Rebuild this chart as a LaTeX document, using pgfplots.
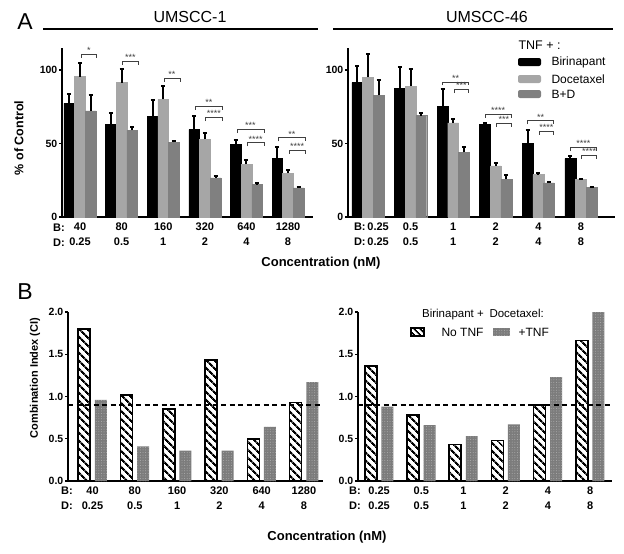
\documentclass[border=0pt]{standalone}
\usepackage{pgfplots}
\pgfplotsset{compat=1.18}
\usepackage{fontspec}
\setmainfont{Liberation Sans}
\usetikzlibrary{patterns.meta}
\definecolor{lgray}{HTML}{A6A6A6}
\definecolor{dgray}{HTML}{808080}
\definecolor{dotgray}{HTML}{7C7C7C}
\definecolor{dotlight}{HTML}{B0B0B0}
\newcommand\fs[1]{\fontsize{#1}{#1}\selectfont}
\pgfplotsset{
  panel/.style={
    scale only axis, clip=false,
    axis x line*=bottom, axis y line*=left,
    axis line style={-, line width=1.4pt},
    tick align=outside, major tick length=3pt,
    ytick style={line width=1.2pt, black},
    xtick style={draw=none},
    xtick={0,...,5},
    xticklabel style={align=center, font=\bfseries\fontsize{11}{15}\selectfont, inner sep=1pt, yshift=-2pt},
    yticklabel style={font=\bfseries\fs{10.5}, inner sep=1.5pt},
    /pgf/number format/assume math mode=true,
    ybar,
  },
  topbar/.style={bar width=0.257, draw=#1, fill=#1,
    error bars/y dir=plus, error bars/y explicit,
    error bars/error bar style={line width=2pt, black},
    error bars/error mark options={rotate=90, mark size=2pt, line width=2pt, black}},
  hatch/.style={bar width=0.284, bar shift=-0.196, draw=black, line width=1.5pt,
    pattern={Lines[angle=-45, distance=5.4pt, line width=2.2pt]}, pattern color=black},
  dotbar/.style={bar width=0.284, bar shift=0.196, draw=none, fill=dotgray,
    postaction={pattern={Dots[distance=2.6pt, radius=0.5pt]}, pattern color=dotlight}},
}
\newcommand\brk[5]{\draw[line width=0.6pt, black!75] (axis cs:#1,#4) -- (axis cs:#1,#3) -- (axis cs:#2,#3) node[midway, above, inner sep=0.3pt, font=\fs{9}] {#5} -- (axis cs:#2,#4);}
\begin{document}
\begin{tikzpicture}
\path[use as bounding box] (0,0) rectangle (624pt,-554pt);
% ---------- Top left: UMSCC-1
\begin{axis}[panel, at={(62pt,-217pt)}, anchor=south west, width=251pt, height=169pt,
  xmin=-0.433, xmax=5.6, ymin=0, ymax=115, ytick={0,50,100},
  xticklabels={{40\\0.25},{80\\0.5},{160\\1},{320\\2},{640\\4},{1280\\8}}]
\addplot[topbar=black, bar shift=-0.257] coordinates {
 (0,77.3) +- (0,6.3) (1,63.2) +- (0,7.8) (2,68.6) +- (0,10.9)
 (3,59.5) +- (0,9.5) (4,49.3) +- (0,3.4) (5,40.0) +- (0,7.7)};
\addplot[topbar=lgray, bar shift=0] coordinates {
 (0,95.5) +- (0,9.5) (1,91.4) +- (0,9.1) (2,80.0) +- (0,9.0)
 (3,53.0) +- (0,4.5) (4,35.9) +- (0,2.7) (5,29.8) +- (0,2.0)};
\addplot[topbar=dgray, bar shift=0.257] coordinates {
 (0,72.3) +- (0,10.7) (1,59.0) +- (0,2.4) (2,51.0) +- (0,1.0)
 (3,26.6) +- (0,1.1) (4,22.0) +- (0,1.2) (5,19.8) +- (0,0.7)};
\brk{0.02}{0.40}{111}{108.5}{*}
\brk{1.02}{1.40}{106}{103.5}{***}
\brk{2.02}{2.40}{94.3}{91.8}{**}
\brk{2.77}{3.42}{75.5}{73}{**}
\brk{3.02}{3.42}{67.7}{65.2}{****}
\brk{3.77}{4.42}{59.5}{57}{***}
\brk{4.02}{4.42}{50.5}{48}{****}
\brk{4.77}{5.42}{54}{51.5}{**}
\brk{5.02}{5.42}{45.5}{43}{****}
\end{axis}
% ---------- Top right: UMSCC-46
\begin{axis}[panel, at={(348pt,-217pt)}, anchor=south west, width=267pt, height=169pt,
  xmin=-0.47, xmax=5.8, ymin=0, ymax=115, ytick={0,50,100},
  xticklabels={{\makebox[0pt][l]{\hspace{-14pt}B:\,0.25}\\\makebox[0pt][l]{\hspace{-14pt}D:\,0.25}},{0.5\\0.5},{1\\1},{2\\2},{4\\4},{8\\8}}]
\addplot[topbar=black, bar shift=-0.25] coordinates {
 (0,91.4) +- (0,11.3) (1,87.5) +- (0,14.3) (2,75.5) +- (0,11.3)
 (3,63.2) +- (0,0.5) (4,50.0) +- (0,9.0) (5,39.8) +- (0,1.6)};
\addplot[topbar=lgray, bar shift=0] coordinates {
 (0,95.0) +- (0,16.0) (1,89.0) +- (0,12.0) (2,64.0) +- (0,3.0)
 (3,34.8) +- (0,2.2) (4,28.9) +- (0,1.1) (5,25.5) +- (0,0.6)};
\addplot[topbar=dgray, bar shift=0.25] coordinates {
 (0,83.0) +- (0,10.2) (1,69.0) +- (0,2.0) (2,43.9) +- (0,3.8)
 (3,25.7) +- (0,2.7) (4,23.2) +- (0,0.7) (5,20.0) +- (0,0.7)};
\brk{1.75}{2.36}{92}{89.5}{**}
\brk{2.02}{2.36}{86.8}{84.3}{***}
\brk{2.75}{3.36}{70}{67.5}{****}
\brk{3.02}{3.36}{63.6}{61.1}{***}
\brk{3.75}{4.36}{65.5}{63}{**}
\brk{4.02}{4.36}{58.6}{56.1}{****}
\brk{4.75}{5.36}{47.3}{44.8}{****}
\brk{5.02}{5.36}{42}{39.5}{****}
\end{axis}
% ---------- Bottom left
\begin{axis}[panel, at={(68pt,-481pt)}, anchor=south west, width=255pt, height=169pt,
  xmin=-0.58, xmax=5.45, ymin=0, ymax=2, ytick={0,0.5,1,1.5,2},
  yticklabel style={/pgf/number format/.cd, fixed, fixed zerofill, precision=1},
  xticklabels={{40\\0.25},{80\\0.5},{160\\1},{320\\2},{640\\4},{1280\\8}}]
\addplot[hatch] coordinates {(0,1.80) (1,1.02) (2,0.85) (3,1.43) (4,0.50) (5,0.93)};
\addplot[dotbar] coordinates {(0,0.96) (1,0.41) (2,0.36) (3,0.36) (4,0.64) (5,1.17)};
\addplot[sharp plot, black, line width=1.5pt, dash pattern=on 5pt off 3.5pt] coordinates {(-0.58,0.9) (5.45,0.9)};
\end{axis}
% ---------- Bottom right
\begin{axis}[panel, at={(358pt,-481pt)}, anchor=south west, width=254pt, height=169pt,
  xmin=-0.5, xmax=5.52, ymin=0, ymax=2, ytick={0,0.5,1,1.5,2},
  yticklabel style={/pgf/number format/.cd, fixed, fixed zerofill, precision=1},
  xticklabels={{0.25\\0.25},{0.5\\0.5},{1\\1},{2\\2},{4\\4},{8\\8}}]
\addplot[hatch] coordinates {(0,1.36) (1,0.78) (2,0.43) (3,0.48) (4,0.90) (5,1.66)};
\addplot[dotbar] coordinates {(0,0.88) (1,0.66) (2,0.53) (3,0.67) (4,1.23) (5,2.00)};
\addplot[sharp plot, black, line width=1.5pt, dash pattern=on 5pt off 3.5pt] coordinates {(-0.5,0.9) (5.52,0.9)};
\end{axis}
% ---------- Text and decorations
\node[font=\fs{23}] at (25pt,-22pt) {A};
\node[font=\fs{23}] at (25pt,-292pt) {B};
\node[font=\fs{16}] at (190pt,-17pt) {UMSCC-1};
\node[font=\fs{16}] at (487pt,-17pt) {UMSCC-46};
\draw[line width=1.5pt] (43pt,-29pt) -- (318pt,-29pt);
\draw[line width=1.5pt] (333pt,-29pt) -- (613pt,-29pt);
\node[rotate=90, font=\bfseries\fs{12.5}] at (19pt,-138pt) {\% of Control};
\node[rotate=90, font=\bfseries\fs{11}] at (35pt,-378pt) {Combination Index (CI)};
\node[font=\bfseries\fs{13}] at (321pt,-263pt) {Concentration (nM)};
\node[font=\bfseries\fs{13}] at (327pt,-537pt) {Concentration (nM)};
\foreach \xx/\yy in {59/228, 67/491, 355/491}{
  \node[font=\bfseries\fs{11}] at (\xx pt,-\yy pt) {B:};
  \node[font=\bfseries\fs{11}] at (\xx pt,-\yy pt-15pt) {D:};
}
% top legend
\node[anchor=west, font=\fs{12.5}] at (515pt,-45pt) {TNF + :};
\fill[black, rounded corners=2pt] (518pt,-58pt) rectangle (541pt,-66pt);
\fill[lgray, rounded corners=2pt] (518pt,-75pt) rectangle (541pt,-83pt);
\fill[dgray, rounded corners=2pt] (518pt,-90pt) rectangle (541pt,-98pt);
\node[anchor=west, font=\fs{12}] at (548pt,-62pt) {Birinapant};
\node[anchor=west, font=\fs{12}] at (548pt,-79pt) {Docetaxel};
\node[anchor=west, font=\fs{12}] at (548pt,-94pt) {B+D};
% bottom legend
\node[font=\fs{11.5}] at (483pt,-315pt) {Birinapant +\enspace Docetaxel:};
\draw[line width=1.3pt, pattern={Lines[angle=-45, distance=4pt, line width=1.8pt]}, pattern color=black] (411pt,-328pt) rectangle (424pt,-336pt);
\node[anchor=west, font=\fs{12}] at (438pt,-332pt) {No TNF};
\fill[dotgray] (493pt,-328pt) rectangle (510pt,-336pt);
\fill[pattern={Dots[distance=2.6pt, radius=0.5pt]}, pattern color=dotlight] (493pt,-328pt) rectangle (510pt,-336pt);
\node[anchor=west, font=\fs{12}] at (515pt,-332pt) {+TNF};
\end{tikzpicture}
\end{document}
